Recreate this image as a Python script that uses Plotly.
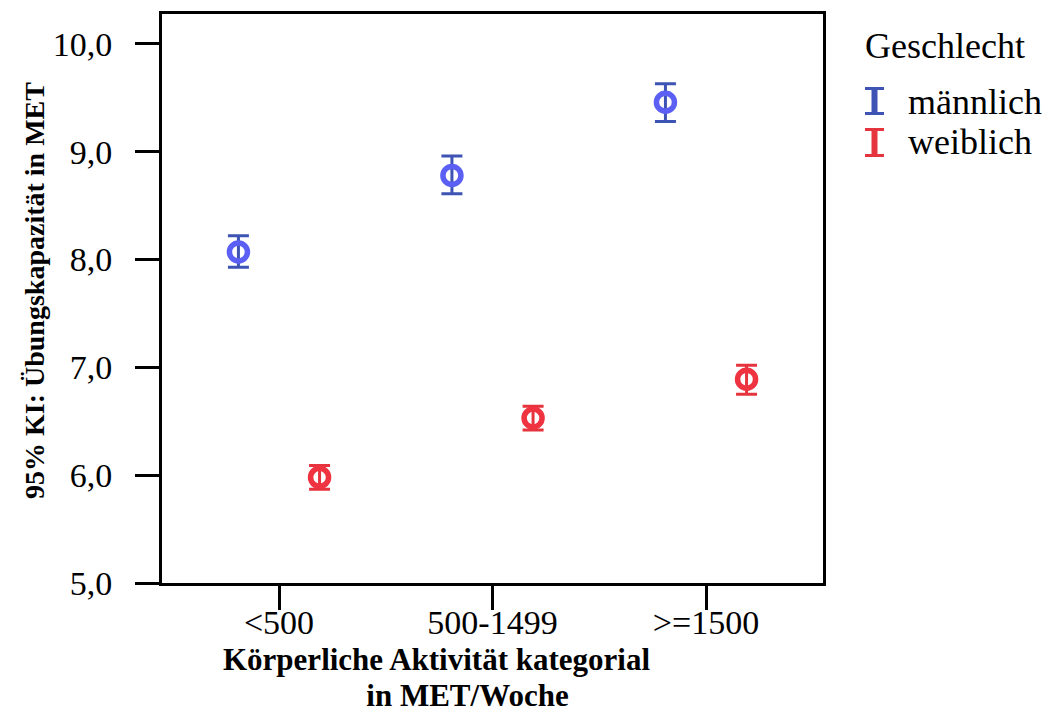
import numpy as np
import plotly.graph_objects as go

# Physical activity categories (MET-minutes per week)
categories = ["<500", "500-1499", ">=1500"]

# Mean exercise capacity (MET) and 95% confidence limits per group
male_mean = [8.07, 8.78, 9.46]
male_lo = [7.93, 8.61, 9.28]
male_hi = [8.22, 8.96, 9.63]

female_mean = [5.98, 6.53, 6.89]
female_lo = [5.87, 6.42, 6.75]
female_hi = [6.09, 6.64, 7.02]

y_ticks = [5.0, 6.0, 7.0, 8.0, 9.0, 10.0]
y_tick_text = ["5,0", "6,0", "7,0", "8,0", "9,0", "10,0"]

# Figure geometry (pixels)
W, H = 1048, 718
L, R, T, B = 162, 225, 14, 135
PW, PH = W - L - R, H - T - B

SERIF = "Liberation Serif, Times New Roman, serif"
BLUE_RING, BLUE_BAR = "#5b5ff3", "#3e54b4"
RED_RING, RED_BAR = "#ef3340", "#e6343e"

idx = np.arange(len(categories))
shift = 0.19


def ci_trace(name, xpos, mean, lo, hi, ring, bar):
    mean = np.array(mean)
    return go.Scatter(
        name=name,
        x=xpos,
        y=mean,
        mode="markers",
        marker=dict(symbol="circle-open", size=18, color=ring,
                    line=dict(width=5.5, color=ring)),
        error_y=dict(type="data", symmetric=False,
                     array=np.array(hi) - mean,
                     arrayminus=mean - np.array(lo),
                     color=bar, thickness=3, width=10.5),
        showlegend=False,
    )


fig = go.Figure()
fig.add_trace(ci_trace("männlich", idx - shift, male_mean, male_lo, male_hi,
                       BLUE_RING, BLUE_BAR))
fig.add_trace(ci_trace("weiblich", idx + shift, female_mean, female_lo,
                       female_hi, RED_RING, RED_BAR))


def px_x(p):
    return (p - L) / PW


def px_y(p):
    return (H - B - p) / PH


shapes = []
annotations = []

# Legend: error-bar glyph plus label for each group
legend_items = [("männlich", BLUE_BAR, 87, 115, 102),
                ("weiblich", RED_BAR, 128, 157, 142)]
for label, col, top, bot, mid in legend_items:
    for x0, x1, y0, y1 in [(871.5, 877.5, top, bot),
                           (865, 884, top, top + 3),
                           (865, 884, bot - 3, bot)]:
        shapes.append(dict(type="rect", xref="paper", yref="paper",
                           x0=px_x(x0), x1=px_x(x1),
                           y0=px_y(y1), y1=px_y(y0),
                           fillcolor=col, line=dict(width=0)))
    annotations.append(dict(text=label, xref="paper", yref="paper",
                            x=px_x(906), y=px_y(mid), xanchor="left",
                            yanchor="middle", showarrow=False,
                            font=dict(family=SERIF, size=36, color="black")))

annotations.append(dict(text="Geschlecht", xref="paper", yref="paper",
                        x=px_x(863), y=px_y(46), xanchor="left",
                        yanchor="middle", showarrow=False,
                        font=dict(family=SERIF, size=36, color="black")))

# X-axis title: two bold lines in one text block
NB = "\u00a0"
x_title = ("<b><span style='font-size:31px'>Körperliche Aktivität kategorial"
           "</span></b><br><b><span style='font-size:31px'>" + NB * 8 +
           "in MET/Woche</span></b>")
annotations.append(dict(text=x_title, xref="paper", yref="paper",
                        x=px_x(436), y=px_y(641), xanchor="center",
                        yanchor="top", showarrow=False, align="center",
                        borderpad=0,
                        font=dict(family=SERIF, size=27.5, color="black")))

annotations.append(dict(text="<b>95% KI: Übungskapazität in MET</b>",
                        xref="paper", yref="paper", textangle=-90,
                        x=px_x(34), y=px_y(291), xanchor="center",
                        yanchor="middle", showarrow=False,
                        font=dict(family=SERIF, size=28, color="black")))

axis_common = dict(showline=True, linewidth=3, linecolor="black",
                   mirror=True, showgrid=False, zeroline=False,
                   ticks="outside", ticklen=24, tickwidth=3,
                   tickcolor="black",
                   tickfont=dict(family=SERIF, size=34, color="black"))

fig.update_layout(
    width=W, height=H,
    margin=dict(l=L, r=R, t=T, b=B),
    paper_bgcolor="white", plot_bgcolor="white",
    showlegend=False,
    xaxis=dict(range=[-0.548, 2.548], tickvals=idx, ticktext=categories,
               ticklabelstandoff=-17, **axis_common),
    yaxis=dict(range=[5.0, 10.278], tickvals=y_ticks, ticktext=y_tick_text,
               ticklabelstandoff=16, **axis_common),
    shapes=shapes,
    annotations=annotations,
)

fig.write_html("out.html")
